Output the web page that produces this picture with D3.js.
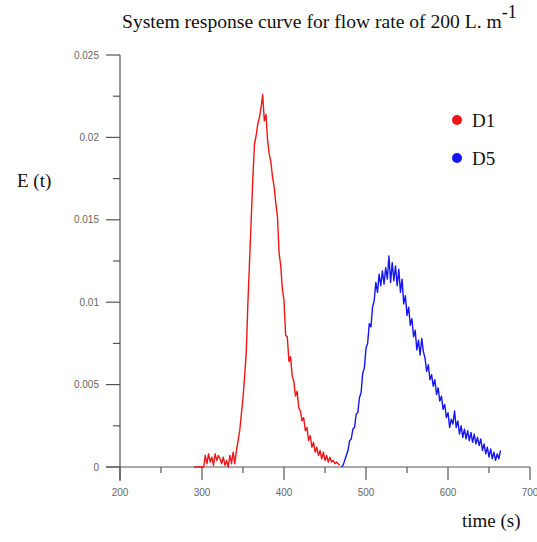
<!DOCTYPE html>
<html>
<head>
<meta charset="utf-8">
<script src="https://cdn.jsdelivr.net/npm/d3@7"></script>
<style>
  body { margin: 0; background: #fff; }
  svg { display: block; }
  .tick-label { font-family: "Liberation Sans", Arial, sans-serif; font-size: 10px; fill: #666; }
  .serif { font-family: "Liberation Serif", "Times New Roman", serif; fill: #111; }
</style>
</head>
<body>
<script>
// System response curve, E(t) for two detectors

// sampling: one reading every 2 s
var d1Start = 290;
var d1Step = 2;
var d1Values = [
  0, 0, 0, 0, 0, 0, 0, 0.0007, 0.0002, 0.0008,
  0.0003, 0.0006, 0.0001, 0.0008, 0.0004, 0.0007, 0.0005, 0.0002, 0.0006, 0.0001,
  0.0004, 0.0000, 0.0007, 0.0002, 0.0009, 0.0002, 0.0010, 0.0016, 0.0022, 0.0032,
  0.0042, 0.0055, 0.0070, 0.0100, 0.0125, 0.0150, 0.0175, 0.0196, 0.0201, 0.0208,
  0.0212, 0.0218, 0.0226, 0.0210, 0.0214, 0.0198, 0.0190, 0.0185, 0.0176, 0.0170,
  0.0160, 0.0152, 0.0130, 0.0122, 0.0108, 0.0101, 0.0080, 0.0079, 0.0064, 0.0067,
  0.0055, 0.0052, 0.0043, 0.0046, 0.0036, 0.0034, 0.0028, 0.0030, 0.0022, 0.0024,
  0.0016, 0.0019, 0.0012, 0.0015, 0.0009, 0.0012, 0.0007, 0.0010, 0.0005, 0.0009,
  0.0004, 0.0007, 0.0003, 0.0006, 0.0003, 0.0004, 0.0002, 0.0003, 0.0002, 0.0001
];

var d5Start = 470;
var d5Step = 2;
var d5Values = [
  0.0000, 0.0001, 0.0004, 0.0007, 0.0010, 0.0016, 0.0017, 0.0023, 0.0024, 0.0032,
  0.0033, 0.0042, 0.0045, 0.0057, 0.0060, 0.0072, 0.0075, 0.0087, 0.0085, 0.0097,
  0.0101, 0.0112, 0.0106, 0.0117, 0.0110, 0.0119, 0.0111, 0.0121, 0.0114, 0.0128,
  0.0112, 0.0124, 0.0113, 0.0122, 0.0110, 0.0120, 0.0106, 0.0114, 0.0099, 0.0104,
  0.0092, 0.0097, 0.0086, 0.0090, 0.0079, 0.0083, 0.0071, 0.0077, 0.0068, 0.0078,
  0.0070, 0.0066, 0.0058, 0.0062, 0.0053, 0.0056, 0.0049, 0.0053, 0.0044, 0.0048,
  0.0040, 0.0043, 0.0035, 0.0038, 0.0030, 0.0033, 0.0024, 0.0029, 0.0026, 0.0034,
  0.0024, 0.0028, 0.0020, 0.0025, 0.0018, 0.0023, 0.0017, 0.0022, 0.0016, 0.0021,
  0.0015, 0.0020, 0.0014, 0.0018, 0.0013, 0.0017, 0.0010, 0.0014, 0.0008, 0.0012,
  0.0006, 0.0011, 0.0005, 0.0009, 0.0004, 0.0008, 0.0005, 0.0010
];

var seriesNames = ["D1", "D5"];
var seriesColors = ["#f01515", "#1515f0"];

var xMajorTicks = [200, 300, 400, 500, 600, 700];
var xMinorTicks = [250, 350, 450, 550, 650];
var yMajorTicks = [0, 0.005, 0.01, 0.015, 0.02, 0.025];
var yMinorTicks = [0.0025, 0.0075, 0.0125, 0.0175, 0.0225];

var width = 537, height = 542;

var svg = d3.select("body").append("svg")
    .attr("width", width)
    .attr("height", height);

var x = d3.scaleLinear().domain([200, 700]).range([120, 530]);
var y = d3.scaleLinear().domain([0, 0.025]).range([467, 55]);

function toPoints(start, step, values) {
    return values.map(function(v, i) { return { t: start + i * step, e: v }; });
}

var series = [
    toPoints(d1Start, d1Step, d1Values),
    toPoints(d5Start, d5Step, d5Values)
];

var axisColor = "#555";

// y axis
var yAxis = svg.append("g").attr("transform", "translate(120,0)");
yAxis.append("line")
    .attr("x1", 0).attr("x2", 0)
    .attr("y1", y(0.025)).attr("y2", y(0) + 14)
    .attr("stroke", axisColor).attr("stroke-width", 1.2);
yAxis.selectAll(".ymaj").data(yMajorTicks).enter().append("line")
    .attr("x1", -14).attr("x2", 0)
    .attr("y1", function(d) { return y(d); }).attr("y2", function(d) { return y(d); })
    .attr("stroke", axisColor).attr("stroke-width", 1.2);
yAxis.selectAll(".ymin").data(yMinorTicks).enter().append("line")
    .attr("x1", -7).attr("x2", 0)
    .attr("y1", function(d) { return y(d); }).attr("y2", function(d) { return y(d); })
    .attr("stroke", axisColor).attr("stroke-width", 1.2);
yAxis.selectAll(".ylab").data(yMajorTicks).enter().append("text")
    .attr("class", "tick-label")
    .attr("x", -21)
    .attr("y", function(d) { return y(d); })
    .attr("dy", "0.35em")
    .attr("text-anchor", "end")
    .text(function(d) { return d3.format("~g")(d); });

// x axis
var xAxis = svg.append("g").attr("transform", "translate(0,467)");
xAxis.append("line")
    .attr("x1", x(200) - 14).attr("x2", x(700))
    .attr("y1", 0).attr("y2", 0)
    .attr("stroke", axisColor).attr("stroke-width", 1.2);
xAxis.selectAll(".xmaj").data(xMajorTicks).enter().append("line")
    .attr("x1", function(d) { return x(d); }).attr("x2", function(d) { return x(d); })
    .attr("y1", 0).attr("y2", 13)
    .attr("stroke", axisColor).attr("stroke-width", 1.2);
xAxis.selectAll(".xmin").data(xMinorTicks).enter().append("line")
    .attr("x1", function(d) { return x(d); }).attr("x2", function(d) { return x(d); })
    .attr("y1", 0).attr("y2", 6)
    .attr("stroke", axisColor).attr("stroke-width", 1.2);
xAxis.selectAll(".xlab").data(xMajorTicks).enter().append("text")
    .attr("class", "tick-label")
    .attr("x", function(d) { return x(d); })
    .attr("y", 29)
    .attr("text-anchor", "middle")
    .text(function(d) { return d; });

// curves
var line = d3.line()
    .x(function(d) { return x(d.t); })
    .y(function(d) { return y(d.e); });

svg.selectAll(".curve").data(series).enter().append("path")
    .attr("class", "curve")
    .attr("d", line)
    .attr("fill", "none")
    .attr("stroke", function(d, i) { return seriesColors[i]; })
    .attr("stroke-width", 1.4)
    .attr("stroke-linejoin", "round");

// legend
var legend = svg.selectAll(".legend").data(seriesNames).enter().append("g")
    .attr("transform", function(d, i) { return "translate(457," + (120 + i * 38) + ")"; });
legend.append("circle")
    .attr("r", 5)
    .attr("fill", function(d, i) { return seriesColors[i]; });
legend.append("text")
    .attr("class", "serif")
    .attr("x", 15)
    .attr("y", 7)
    .style("font-size", "19px")
    .text(function(d) { return d; });

// title and axis names
var title = svg.append("text")
    .attr("class", "serif")
    .attr("x", 122)
    .attr("y", 28)
    .style("font-size", "19.6px");
title.append("tspan").text("System response curve for flow rate of 200 L. m");
title.append("tspan").attr("dy", -10).style("font-size", "18px").text("-1");

svg.append("text")
    .attr("class", "serif")
    .attr("x", 17)
    .attr("y", 187)
    .style("font-size", "19px")
    .text("E (t)");

svg.append("text")
    .attr("class", "serif")
    .attr("x", 462)
    .attr("y", 527)
    .style("font-size", "19px")
    .text("time (s)");
</script>
</body>
</html>
